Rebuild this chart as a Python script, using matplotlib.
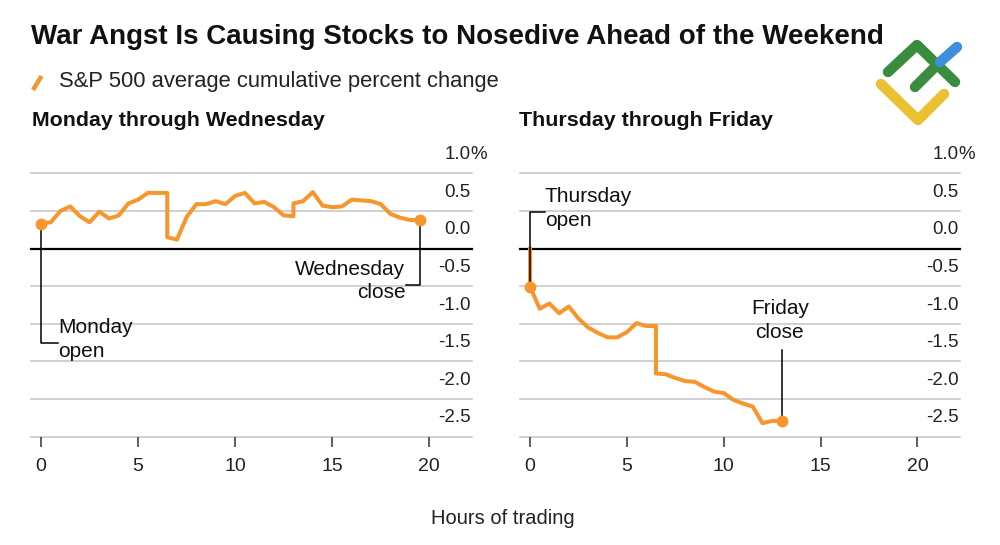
import matplotlib
matplotlib.use('Agg')
import matplotlib.pyplot as plt
import matplotlib.transforms as mtransforms
from matplotlib.lines import Line2D
import numpy as np

plt.rcParams['font.family'] = ['Liberation Sans', 'DejaVu Sans']

# data: hours of trading vs S&P 500 average cumulative percent change
mon_wed_hours = [0, 0.5, 1, 1.5, 2, 2.5, 3, 3.5, 4, 4.5, 5, 5.5, 6, 6.5, 6.5,
                 7, 7.5, 8, 8.5, 9, 9.5, 10, 10.5, 11, 11.5, 12, 12.5, 13, 13,
                 13.5, 14, 14.5, 15, 15.5, 16, 16.5, 17, 17.5, 18, 18.5, 19, 19.5]
mon_wed_pct = [0.33, 0.35, 0.50, 0.56, 0.43, 0.35, 0.49, 0.40, 0.44, 0.60, 0.65,
               0.74, 0.74, 0.74, 0.15, 0.12, 0.42, 0.59, 0.59, 0.63, 0.59, 0.70,
               0.74, 0.60, 0.62, 0.55, 0.44, 0.43, 0.60, 0.63, 0.75, 0.57, 0.55,
               0.56, 0.65, 0.64, 0.63, 0.59, 0.46, 0.41, 0.38, 0.38]

thu_fri_hours = [0, 0, 0.5, 1, 1.5, 2, 2.5, 3, 3.5, 4, 4.5, 5, 5.5, 6, 6.5, 6.5,
                 7, 7.5, 8, 8.5, 9, 9.5, 10, 10.5, 11, 11.5, 12, 12.5, 13]
thu_fri_pct = [0.0, -0.51, -0.80, -0.73, -0.86, -0.77, -0.93, -1.05, -1.12, -1.18,
               -1.18, -1.11, -0.99, -1.03, -1.03, -1.66, -1.67, -1.72, -1.76,
               -1.77, -1.84, -1.90, -1.92, -2.01, -2.06, -2.10, -2.32, -2.29, -2.29]

y_ticks = [1.0, 0.5, 0.0, -0.5, -1.0, -1.5, -2.0, -2.5]
y_labels = ['1.0%', '0.5', '0.0', '-0.5', '-1.0', '-1.5', '-2.0', '-2.5']
x_ticks = [0, 5, 10, 15, 20]

orange = '#f7962d'
grid_gray = '#c8c8c8'

fig = plt.figure(figsize=(10, 5.45), dpi=100)
ax1 = fig.add_axes([0.031, 0.1987, 0.441, 0.4833])
ax2 = fig.add_axes([0.520, 0.1987, 0.440, 0.4833])


def setup(ax):
    ax.set_xlim(-0.52, 22.2)
    ax.set_ylim(-2.5, 1.0)
    for s in ax.spines.values():
        s.set_visible(False)
    ax.set_yticks([])
    ax.set_xticks(x_ticks)
    ax.tick_params(axis='x', direction='out', length=7, width=1.1, color='#333333',
                   pad=8, labelsize=14, labelcolor='#222222')
    for v in y_ticks:
        if v == 0:
            ax.axhline(v, color='black', lw=1.6, zorder=1, clip_on=False)
        else:
            ax.axhline(v, color=grid_gray, lw=1.2, zorder=1, clip_on=False)
    trans = mtransforms.blended_transform_factory(ax.transAxes, ax.transData)
    for v, lab in zip(y_ticks, y_labels):
        if lab.endswith('%'):
            ax.text(0.997, v + 0.25, lab[:-1], transform=trans, ha='right', va='center',
                    fontsize=13.5, color='#222222')
            ax.text(0.997, v + 0.25, '%', transform=trans, ha='left', va='center',
                    fontsize=13.5, color='#222222')
        else:
            ax.text(0.997, v + 0.25, lab, transform=trans, ha='right', va='center',
                    fontsize=13.5, color='#222222')


setup(ax1)
setup(ax2)

# left panel
ax1.plot(mon_wed_hours, mon_wed_pct, color=orange, lw=2.9, zorder=3,
         solid_joinstyle='round')
ax1.plot([0, 0, 0.87], [mon_wed_pct[0], -1.26, -1.26], color='black', lw=1.1, zorder=2)
ax1.plot([mon_wed_hours[-1], mon_wed_hours[-1], 18.82], [mon_wed_pct[-1], -0.49, -0.49],
         color='black', lw=1.1, zorder=2)
ax1.plot([mon_wed_hours[0], mon_wed_hours[-1]], [mon_wed_pct[0], mon_wed_pct[-1]],
         'o', color=orange, ms=7.5, zorder=4)
ax1.text(0.87, -1.21, 'Monday\nopen', ha='left', va='center', fontsize=15,
         linespacing=1.3, color='#111111')
ax1.text(18.77, -0.43, 'Wednesday\nclose', ha='right', va='center', fontsize=15,
         linespacing=1.3, color='#111111')

# right panel
ax2.plot(thu_fri_hours, thu_fri_pct, color=orange, lw=2.9, zorder=3,
         solid_joinstyle='round')
ax2.plot([0, 0, 0.77], [thu_fri_pct[1], 0.48, 0.48], color='black', lw=1.1, zorder=3.5)
ax2.plot([thu_fri_hours[-1], thu_fri_hours[-1]], [thu_fri_pct[-1], -1.35],
         color='black', lw=1.1, zorder=2)
ax2.plot([thu_fri_hours[1], thu_fri_hours[-1]], [thu_fri_pct[1], thu_fri_pct[-1]],
         'o', color=orange, ms=7.5, zorder=4)
ax2.text(0.77, 0.53, 'Thursday\nopen', ha='left', va='center', fontsize=15,
         linespacing=1.3, color='#111111')
ax2.text(12.9, -0.955, 'Friday\nclose', ha='center', va='center', fontsize=15,
         linespacing=1.3, color='#111111')

# titles
fig.text(0.031, 1 - 37 / 545, 'War Angst Is Causing Stocks to Nosedive Ahead of the Weekend',
         fontsize=20.0, fontweight='bold', ha='left', va='center', color='#111111')
fig.add_artist(Line2D([33 / 1000, 41.5 / 1000], [1 - 90 / 545, 1 - 76 / 545],
                      color=orange, lw=3.2, solid_capstyle='butt'))
fig.text(0.059, 1 - 81 / 545, 'S&P 500 average cumulative percent change',
         fontsize=15.8, ha='left', va='center', color='#222222')
fig.text(0.032, 1 - 121 / 545, 'Monday through Wednesday', fontsize=15.4,
         fontweight='bold', ha='left', va='center', color='#111111')
fig.text(0.519, 1 - 121 / 545, 'Thursday through Friday', fontsize=15.4,
         fontweight='bold', ha='left', va='center', color='#111111')
fig.text(0.503, 1 - 519 / 545, 'Hours of trading', fontsize=14.5,
         ha='center', va='center', color='#222222')


# logo in the top right corner
def px(x, y):
    return x / 1000, 1 - y / 545


logo = [
    ('#ebc133', [(881, 84), (918, 120), (944, 94)]),
    ('#3a8c3f', [(888, 72), (917, 45), (955, 82)]),
    ('#3a8c3f', [(915, 87), (938, 64)]),
    ('#3d8fdd', [(940, 62), (957, 47)]),
]
for col, pts in logo:
    xs, ys = zip(*[px(a, b) for a, b in pts])
    fig.add_artist(Line2D(xs, ys, color=col, lw=7.5, solid_capstyle='round',
                          solid_joinstyle='round'))

fig.savefig('out.png', dpi=100, facecolor='white')
